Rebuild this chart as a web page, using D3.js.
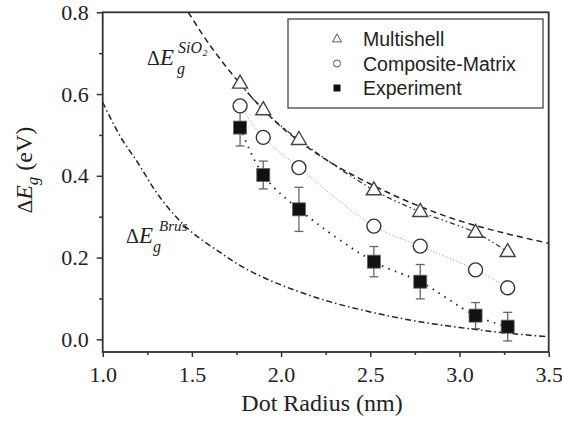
<!DOCTYPE html>
<html>
<head>
<meta charset="utf-8">
<script src="https://cdn.jsdelivr.net/npm/d3@7"></script>
<style>
  body { margin: 0; background: #fff; }
</style>
</head>
<body>
<svg id="chart" width="562" height="423"></svg>
<script>
// dot radius (nm) of the calculated / measured points
const radius = [1.77, 1.90, 2.10, 2.52, 2.78, 3.09, 3.27];
const multishell = [0.626, 0.561, 0.488, 0.365, 0.312, 0.261, 0.214];
const composite = [0.571, 0.494, 0.420, 0.277, 0.228, 0.170, 0.126];
const experiment = [0.518, 0.402, 0.318, 0.190, 0.141, 0.058, 0.031];
const expError = [0.045, 0.034, 0.054, 0.037, 0.042, 0.032, 0.035];

// the two reference curves
const sio2X = [1.48, 1.6, 1.8, 2.0, 2.25, 2.5, 2.75, 3.0, 3.25, 3.5];
const sio2Y = [0.80, 0.72, 0.61, 0.52, 0.44, 0.38, 0.33, 0.29, 0.26, 0.235];
const brusX = [1.0, 1.1, 1.2, 1.3, 1.4, 1.5, 1.65, 1.8, 2.0, 2.25, 2.5, 2.75, 3.0, 3.25, 3.5];
const brusY = [0.58, 0.495, 0.43, 0.36, 0.305, 0.262, 0.215, 0.173, 0.133, 0.095, 0.067, 0.045, 0.029, 0.016, 0.006];

const xTicks = [1.0, 1.5, 2.0, 2.5, 3.0, 3.5];
const xMinor = [1.25, 1.75, 2.25, 2.75, 3.25];
const yTicks = [0.0, 0.2, 0.4, 0.6, 0.8];
const yMinor = [0.1, 0.3, 0.5, 0.7];
const legendNames = ["Multishell", "Composite-Matrix", "Experiment"];

const svg = d3.select("#chart");
const serif = "'Liberation Serif', 'Times New Roman', serif";
const sans = "'Liberation Sans', Arial, sans-serif";
const frameColor = "#333";

const x = d3.scaleLinear().domain([1, 3.5]).range([102.7, 548.7]);
const y = d3.scaleLinear().domain([-0.031, 0.8]).range([352, 12.3]);

const line = d3.line()
  .x(d => x(d[0]))
  .y(d => y(d[1]))
  .curve(d3.curveCatmullRom);

// reference curves
svg.append("path")
  .attr("d", line(d3.zip(sio2X, sio2Y)))
  .attr("fill", "none")
  .attr("stroke", "#222")
  .attr("stroke-width", 1.5)
  .attr("stroke-dasharray", "6,4");

svg.append("path")
  .attr("d", line(d3.zip(brusX, brusY)))
  .attr("fill", "none")
  .attr("stroke", "#222")
  .attr("stroke-width", 1.5)
  .attr("stroke-dasharray", "6,3,1.5,3");

// guide lines through the points
svg.append("path")
  .attr("d", line(d3.zip(radius, multishell)))
  .attr("fill", "none")
  .attr("stroke", "#333")
  .attr("stroke-width", 1.3)
  .attr("stroke-dasharray", "5,3,1.5,3,1.5,3");

svg.append("path")
  .attr("d", line(d3.zip(radius, composite)))
  .attr("fill", "none")
  .attr("stroke", "#999")
  .attr("stroke-width", 1)
  .attr("stroke-dasharray", "1,2");

svg.append("path")
  .attr("d", line(d3.zip(radius, experiment)))
  .attr("fill", "none")
  .attr("stroke", "#222")
  .attr("stroke-width", 1.8)
  .attr("stroke-dasharray", "1.5,5.5");

// error bars
const err = svg.append("g").attr("stroke", "#666").attr("stroke-width", 1.3);
radius.forEach((r, i) => {
  const lo = y(experiment[i] - expError[i]), hi = y(experiment[i] + expError[i]);
  err.append("line").attr("x1", x(r)).attr("x2", x(r)).attr("y1", lo).attr("y2", hi);
  err.append("line").attr("x1", x(r) - 4.5).attr("x2", x(r) + 4.5).attr("y1", lo).attr("y2", lo);
  err.append("line").attr("x1", x(r) - 4.5).attr("x2", x(r) + 4.5).attr("y1", hi).attr("y2", hi);
});

const tri = (w, h) => `M0,${-h * 0.64}L${w / 2},${h * 0.36}L${-w / 2},${h * 0.36}Z`;

svg.append("g").selectAll("path")
  .data(radius)
  .join("path")
  .attr("transform", (d, i) => `translate(${x(d)},${y(multishell[i])})`)
  .attr("d", tri(15, 13))
  .attr("fill", "#fff")
  .attr("stroke", "#444")
  .attr("stroke-width", 1.4);

svg.append("g").selectAll("circle")
  .data(radius)
  .join("circle")
  .attr("cx", d => x(d))
  .attr("cy", (d, i) => y(composite[i]))
  .attr("r", 7)
  .attr("fill", "#fff")
  .attr("stroke", "#333")
  .attr("stroke-width", 1.4);

svg.append("g").selectAll("rect")
  .data(radius)
  .join("rect")
  .attr("x", d => x(d) - 6.5)
  .attr("y", (d, i) => y(experiment[i]) - 6.5)
  .attr("width", 13)
  .attr("height", 13)
  .attr("fill", "#111")
  .attr("stroke", "#666")
  .attr("stroke-width", 0.8);

// axes
svg.append("g")
  .attr("transform", `translate(0,${y(-0.031)})`)
  .call(d3.axisBottom(x).tickValues(xTicks).tickSize(5).tickPadding(9).tickFormat(d3.format(".1f")));
svg.append("g")
  .attr("transform", `translate(0,${y(-0.031)})`)
  .call(d3.axisBottom(x).tickValues(xMinor).tickSize(3).tickFormat(""));

svg.append("g")
  .attr("transform", `translate(${x(1)},0)`)
  .call(d3.axisLeft(y).tickValues(yTicks).tickSize(6).tickPadding(8).tickFormat(d3.format(".1f")));
svg.append("g")
  .attr("transform", `translate(${x(1)},0)`)
  .call(d3.axisLeft(y).tickValues(yMinor).tickSize(3.5).tickFormat(""));

svg.selectAll(".domain").remove();
svg.selectAll(".tick line").attr("stroke", frameColor).attr("stroke-width", 1.5);
svg.selectAll(".tick text")
  .attr("font-family", serif)
  .attr("font-size", 22)
  .attr("fill", "#222");

svg.append("rect")
  .attr("x", x(1))
  .attr("y", y(0.8))
  .attr("width", x(3.5) - x(1))
  .attr("height", y(-0.031) - y(0.8))
  .attr("fill", "none")
  .attr("stroke", frameColor)
  .attr("stroke-width", 1.8);

// axis titles
svg.append("text")
  .attr("x", 322)
  .attr("y", 411)
  .attr("text-anchor", "middle")
  .attr("font-family", serif)
  .attr("font-size", 24)
  .attr("fill", "#222")
  .text("Dot Radius (nm)");

const yTitle = svg.append("text")
  .attr("transform", "translate(32,170) rotate(-90)")
  .attr("text-anchor", "middle")
  .attr("font-family", serif)
  .attr("font-size", 24)
  .attr("fill", "#222");
yTitle.append("tspan").attr("font-size", 21).text("Δ");
yTitle.append("tspan").attr("font-style", "italic").text("E");
yTitle.append("tspan").attr("font-size", 17).attr("dy", 6).attr("font-style", "italic").text("g");
yTitle.append("tspan").attr("dy", -6).text(" (eV)");

// curve labels
function curveLabel(x0, base, sup, supSize, supX, gX) {
  const g = svg.append("g").attr("font-family", serif).attr("fill", "#222");
  const t = g.append("text").attr("x", x0).attr("y", base).attr("font-size", 23);
  t.append("tspan").attr("font-size", 20).text("Δ");
  t.append("tspan").attr("font-style", "italic").text("E");
  g.append("text").attr("x", supX).attr("y", base - 12).attr("font-size", supSize)
    .attr("font-style", "italic").text(sup);
  g.append("text").attr("x", gX).attr("y", base + 9).attr("font-size", 16)
    .attr("font-style", "italic").text("g");
}
curveLabel(147, 65, "SiO\u2082", 16, 178, 177);
curveLabel(126, 243, "Brus", 15, 159, 153);

// legend
const legend = svg.append("g");
legend.append("rect")
  .attr("x", 288).attr("y", 19).attr("width", 255).attr("height", 89)
  .attr("fill", "#fff").attr("stroke", "#444").attr("stroke-width", 1.3);

const rowY = d3.scalePoint().domain(legendNames).range([39, 88]);
legend.append("path")
  .attr("transform", `translate(337,${rowY(legendNames[0])})`)
  .attr("d", tri(9, 8))
  .attr("fill", "#fff").attr("stroke", "#555").attr("stroke-width", 1);
legend.append("circle")
  .attr("cx", 337).attr("cy", rowY(legendNames[1])).attr("r", 3.5)
  .attr("fill", "#fff").attr("stroke", "#555").attr("stroke-width", 1);
legend.append("rect")
  .attr("x", 333.5).attr("y", rowY(legendNames[2]) - 3.5).attr("width", 7).attr("height", 7)
  .attr("fill", "#111");

legend.selectAll("text.name")
  .data(legendNames)
  .join("text")
  .attr("class", "name")
  .attr("x", 363)
  .attr("y", d => rowY(d) + 7)
  .attr("font-family", sans)
  .attr("font-size", 19.5)
  .attr("fill", "#222")
  .text(d => d);
</script>
</body>
</html>
